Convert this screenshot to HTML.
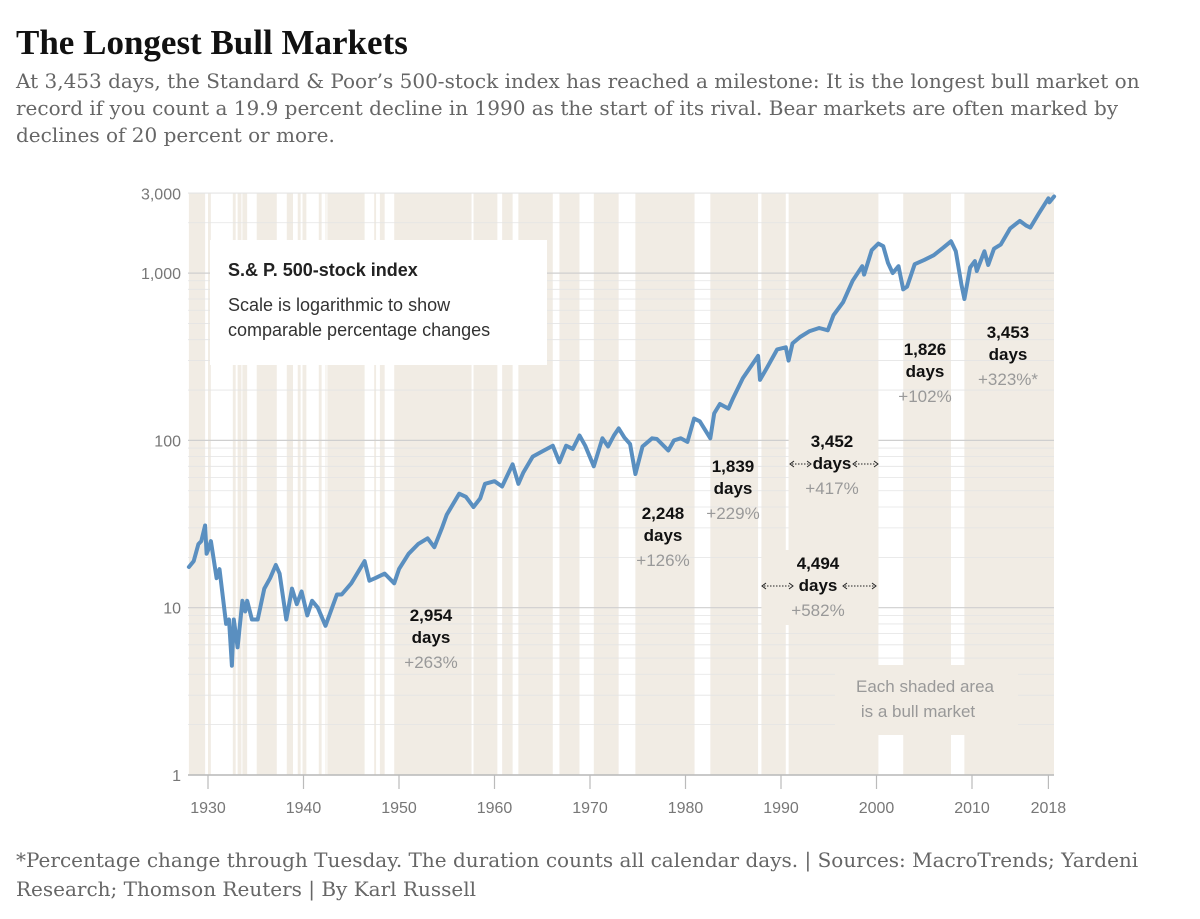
<!DOCTYPE html>
<html><head><meta charset="utf-8">
<style>
body{margin:0;background:#fff;width:1200px;height:919px;overflow:hidden;}
.t{position:absolute;left:16px;top:23px;font-family:"Liberation Serif",serif;font-weight:bold;font-size:35px;color:#111;}
.s{position:absolute;left:16px;top:68px;width:1180px;font-family:"DejaVu Serif",serif;font-size:20px;line-height:27px;color:#666;}
.f{position:absolute;left:16px;top:846px;width:1175px;font-family:"DejaVu Serif",serif;font-size:20px;line-height:29px;color:#666;}
svg{position:absolute;left:0;top:0;}
</style></head><body>
<div class="t">The Longest Bull Markets</div>
<div class="s">At 3,453 days, the Standard &amp; Poor’s 500-stock index has reached a milestone: It is the longest bull market on record if you count a 19.9 percent decline in 1990 as the start of its rival. Bear markets are often marked by declines of 20 percent or more.</div>
<div class="f">*Percentage change through Tuesday. The duration counts all calendar days. | Sources: MacroTrends; Yardeni Research; Thomson Reuters | By Karl Russell</div>
<svg id="chart" width="1200" height="919" font-family="Liberation Sans, sans-serif"></svg>
<script>
const bullStarts=[1928.0,1930.0,1932.6,1933.1,1933.6,1935.1,1938.25,1939.4,1939.9,1941.6,1942.3,1942.5,1944.6,1947.4,1948.0,1949.5,1957.8,1960.8,1962.5,1966.8,1970.4,1974.75,1978.2,1982.6,1987.95,1990.8,2002.8,2009.2];
const bullEnds=[1929.7,1930.3,1932.9,1933.5,1934.1,1937.2,1938.9,1939.7,1940.3,1941.9,1942.35,1945.0,1946.4,1947.6,1948.5,1957.6,1960.3,1961.9,1966.1,1968.9,1973.0,1980.9,1980.95,1987.6,1990.5,2000.2,2007.8,2018.6];
const years=[1928.0,1928.5,1929.0,1929.3,1929.7,1929.85,1930.0,1930.3,1930.9,1931.2,1931.9,1932.2,1932.5,1932.7,1933.1,1933.6,1933.9,1934.1,1934.6,1935.2,1935.9,1936.5,1937.1,1937.5,1938.2,1938.8,1939.3,1939.8,1940.4,1940.9,1941.5,1942.3,1943.5,1944.0,1945.0,1946.4,1946.9,1947.5,1948.5,1949.5,1950.0,1951.0,1952.0,1953.0,1953.7,1954.5,1955.0,1956.3,1957.0,1957.8,1958.5,1959.0,1960.0,1960.8,1961.9,1962.5,1963.0,1964.0,1965.0,1966.1,1966.8,1967.5,1968.2,1968.9,1969.5,1970.4,1971.3,1971.9,1972.5,1973.0,1973.6,1974.2,1974.75,1975.5,1976.5,1977.0,1978.2,1978.8,1979.5,1980.2,1980.9,1981.5,1982.6,1983.0,1983.6,1984.5,1985.0,1986.0,1987.6,1987.8,1988.5,1989.6,1990.5,1990.8,1991.2,1992.0,1993.0,1994.0,1994.9,1995.5,1996.5,1997.5,1998.5,1998.7,1999.5,2000.2,2000.7,2001.2,2001.7,2002.3,2002.8,2003.2,2004.0,2005.0,2006.0,2007.0,2007.8,2008.3,2008.9,2009.2,2009.8,2010.3,2010.5,2011.3,2011.7,2012.3,2013.0,2014.0,2015.0,2015.7,2016.1,2017.0,2018.0,2018.1,2018.6];
const values=[17.5,19,24,25,31,21,22,25,15,17,8,8.5,4.5,8.5,5.8,11,9.5,11,8.5,8.5,13,15,18,16,8.5,13,10.5,12.5,9,11,10,7.8,12,12,14,19,14.5,15,16,14,17,21,24,26,23,30,36,48,46,40,45,55,57,53,72,55,64,80,86,93,74,93,89,107,93,70,103,92,107,118,104,95,63,92,103,102,87,100,103,98,135,130,103,145,165,155,180,235,320,230,270,350,360,300,380,415,450,470,455,560,670,900,1100,980,1370,1500,1450,1150,1000,1100,800,830,1130,1200,1280,1420,1550,1350,850,700,1080,1180,1030,1350,1120,1400,1480,1850,2050,1920,1870,2270,2800,2650,2870];
const yTicks=[1,10,100,1000,3000];
const yTickLabels=["1","10","100","1,000","3,000"];
const xTicks=[1930,1940,1950,1960,1970,1980,1990,2000,2010,2018];

const NS="http://www.w3.org/2000/svg";
const svg=document.getElementById('chart');
const X0=188,X1=1054,YT=193,YB=775;
const x=yr=>208+(yr-1930)*9.55;
const y=v=>775-167.3*Math.log10(v);
function mk(tag,at,parent){const e=document.createElementNS(NS,tag);for(const k in at)e.setAttribute(k,at[k]);(parent||svg).appendChild(e);return e;}

for(let i=0;i<bullStarts.length;i++){
  const a=Math.max(X0,x(bullStarts[i])),b=Math.min(X1,x(bullEnds[i]));
  const r=mk('rect',{x:a,y:YT,width:Math.max(1,b-a),height:YB-YT,fill:'#f1ece4'});
  
  
}
for(let d=0;d<4;d++){
  for(let m=1;m<10;m++){
    const v=m*Math.pow(10,d); if(v>3000)break;
    const major=(m===1);
    const g=mk('line',{x1:X0,x2:X1,y1:y(v),y2:y(v),stroke:major?'#cfcfcf':'#e4e4e4','stroke-width':major?1.2:0.8});
    
    
  }
}
mk('line',{x1:X0,x2:X1,y1:YT,y2:YT,stroke:'#e4e4e4'});
mk('rect',{x:x(1990.8),y:425,width:x(2000.2)-x(1990.8),height:200,fill:'#f1ece4'});
mk('rect',{x:x(1987.95),y:550,width:x(2000.2)-x(1987.95),height:75,fill:'#f1ece4'});
mk('rect',{x:835,y:665,width:183,height:70,fill:'#f1ece4'});
mk('line',{x1:X0,x2:X1,y1:YB,y2:YB,stroke:'#bbb','stroke-width':1.5});
xTicks.forEach(t=>{
  const tk=mk('line',{x1:x(t),x2:x(t),y1:YB,y2:YB+14,stroke:'#bbb','stroke-width':1.2});
  
  
  const tl=mk('text',{x:x(t),y:813,'text-anchor':'middle','font-size':16,fill:'#777'});
  tl.textContent=t;
  
  
});
yTicks.forEach((t,i)=>{
  const tl=mk('text',{x:181,y:y(t)+6,'text-anchor':'end','font-size':16,fill:'#777'});
  tl.textContent=yTickLabels[i];
  
  
});
let d='';years.forEach((yr,i)=>{d+=(i?'L':'M')+x(yr).toFixed(1)+','+y(values[i]).toFixed(1);});
const ln=mk('path',{d:d,fill:'none',stroke:'#5a8fc0','stroke-width':4,'stroke-linejoin':'round','stroke-linecap':'round'});


const lb=mk('rect',{x:210,y:240,width:337,height:125,fill:'#fff'});


const l1=mk('text',{x:228,y:276,'font-size':18,'font-weight':'bold',fill:'#222'});l1.textContent='S.& P. 500-stock index';


const l2=mk('text',{x:228,y:311,'font-size':18,fill:'#333'});l2.textContent='Scale is logarithmic to show';
const l3=mk('text',{x:228,y:336,'font-size':18,fill:'#333'});l3.textContent='comparable percentage changes';




function ann(cx,y0,a,b,c,name){
  const g=mk('g',{});
  
  
  mk('text',{x:cx,y:y0,'text-anchor':'middle','font-size':17,'font-weight':'bold',fill:'#111'},g).textContent=a;
  mk('text',{x:cx,y:y0+22,'text-anchor':'middle','font-size':17,'font-weight':'bold',fill:'#111'},g).textContent=b;
  mk('text',{x:cx,y:y0+47,'text-anchor':'middle','font-size':17,fill:'#999'},g).textContent=c;
}
ann(431,621,'2,954','days','+263%','annotation-1949');
ann(663,519,'2,248','days','+126%','annotation-1974');
ann(733,472,'1,839','days','+229%','annotation-1982');
ann(832,447,'3,452','days','+417%','annotation-1990');
ann(818,569,'4,494','days','+582%','annotation-1987');
ann(925,355,'1,826','days','+102%','annotation-2002');
ann(1008,338,'3,453','days','+323%*','annotation-2009');
function arrow(x1,x2,yy){
  mk('line',{x1:x1+3,x2:x2-3,y1:yy,y2:yy,stroke:'#222','stroke-width':1,'stroke-dasharray':'1.5,1.5'});
  mk('path',{d:`M${x1+5},${yy-3}L${x1+1},${yy}L${x1+5},${yy+3}`,fill:'none',stroke:'#222','stroke-width':1});
  mk('path',{d:`M${x2-5},${yy-3}L${x2-1},${yy}L${x2-5},${yy+3}`,fill:'none',stroke:'#222','stroke-width':1});
}
arrow(789,812,464);arrow(852,879,464);
arrow(761,794,586);arrow(842,877,586);
const e1=mk('text',{x:925,y:692,'text-anchor':'middle','font-size':17,fill:'#999'});e1.textContent='Each shaded area';
const e2=mk('text',{x:918,y:717,'text-anchor':'middle','font-size':17,fill:'#999'});e2.textContent='is a bull market';




</script>
</body></html>
